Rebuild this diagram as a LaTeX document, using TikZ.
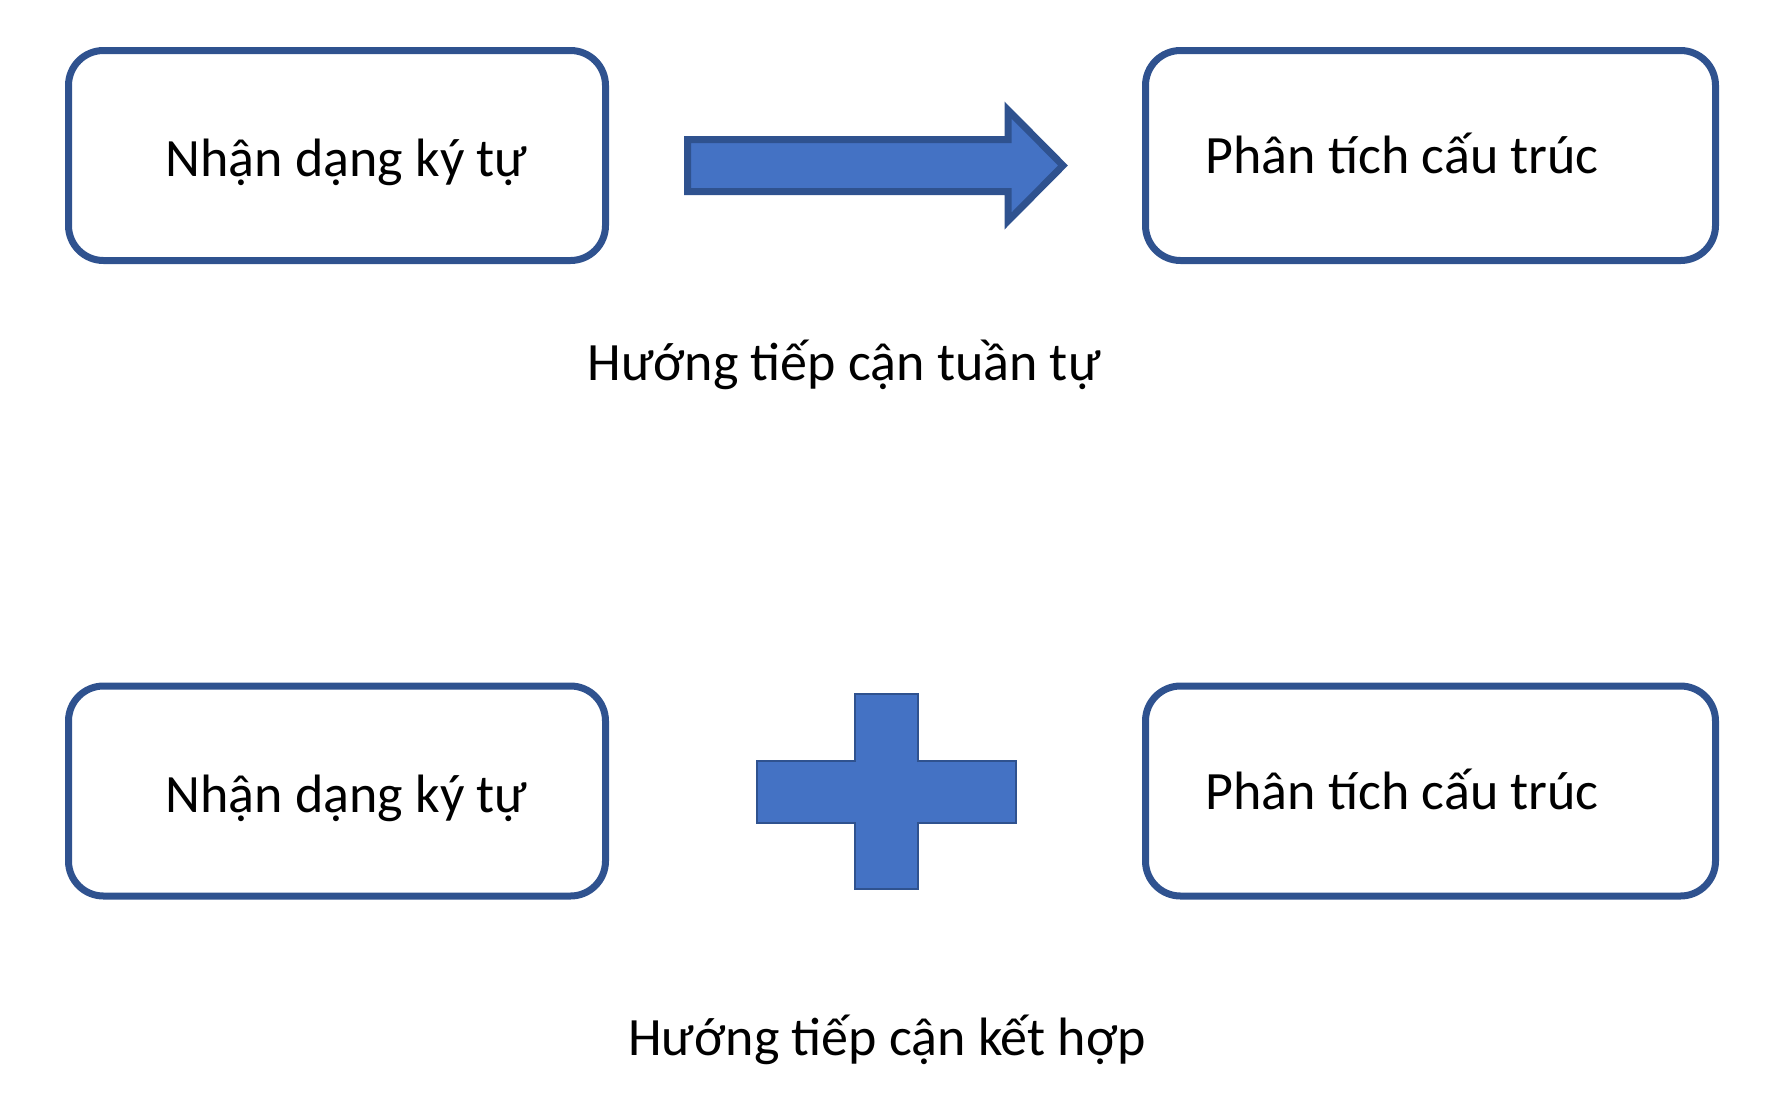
\documentclass[tikz,border=0pt]{standalone}
\usepackage{fontspec}
\setmainfont{Carlito}
\usepackage{tikz}
\usetikzlibrary{calc}
\definecolor{boxline}{HTML}{2F528F}
\definecolor{boxfill}{HTML}{4472C4}
\tikzset{
  stagebox/.style={draw=boxline,line width=7pt,rounded corners=35pt,rectangle,minimum height=210pt},
  bluemark/.style={draw=boxline,fill=boxfill,line join=miter},
  recbox/.style={stagebox,minimum width=537pt,label={[shift={(9.5,7)}]center:Nhận dạng ký tự}},
  anabox/.style={stagebox,minimum width=570pt,label={[anchor=west,shift={(63.5,-2)}]west:Phân tích cấu trúc}}
}
\begin{document}
\begin{tikzpicture}[x=1pt,y=-1pt,every node/.style={font=\fontsize{54}{64}\selectfont,inner sep=0pt}]
\useasboundingbox (0,0) rectangle (1792,1096);

% sequential approach
\draw node[recbox] at (337,155.5) (rec1) {};
\draw node[anabox] at (1430.5,155.5) (ana1) {};
\draw[bluemark,line width=7pt] (687.5,139.5) -- (1008,139.5) -- (1008,110) -- (1063,165.5) -- (1008,221) -- (1008,191.5) -- (687.5,191.5) -- cycle;
\draw node at (844,365) (seq) {Hướng tiếp cận tuần tự};

% combined approach
\draw node[recbox] at (337,791) (rec2) {};
\draw node[anabox] at (1430.5,791) (ana2) {};
\draw[bluemark,line width=2.5pt] (855,694) -- (918,694) -- (918,761) -- (1016,761) -- (1016,823) -- (918,823) -- (918,889) -- (855,889) -- (855,823) -- (757,823) -- (757,761) -- (855,761) -- cycle;
\draw node at (887,1040) (comb) {Hướng tiếp cận kết hợp};

\end{tikzpicture}
\end{document}
